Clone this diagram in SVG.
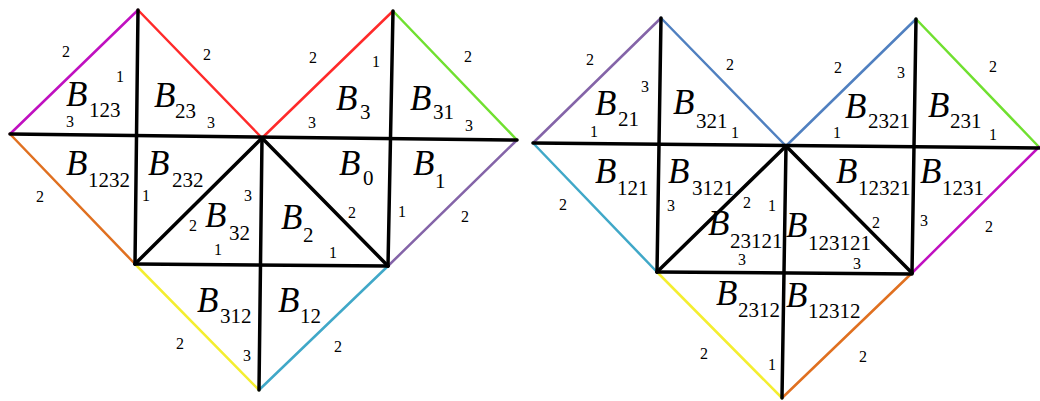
<svg xmlns="http://www.w3.org/2000/svg" width="1040" height="401" viewBox="0 0 1040 401">
<style>
.k{stroke:#000;stroke-width:3.5;stroke-linecap:round;fill:none}
.c{stroke-width:2.5;fill:none;stroke-linecap:round}
.B{font-family:"Liberation Serif",serif;font-style:italic;font-size:35px;fill:#000}
.s{font-family:"Liberation Serif",serif;font-size:21px;fill:#000}
.n{font-family:"Liberation Serif",serif;font-size:16px;fill:#000;text-anchor:middle}
</style>
<rect width="1040" height="401" fill="#fff"/>
<g id="connectors">
<g id="colored-left">
<line class="c" stroke="#c010c0" x1="138" y1="10" x2="10" y2="134"/>
<line class="c" stroke="#ff2a2a" x1="138" y1="10" x2="262" y2="138"/>
<line class="c" stroke="#ff2a2a" x1="262" y1="138" x2="393" y2="11"/>
<line class="c" stroke="#70e030" x1="393" y1="11" x2="517" y2="140"/>
<line class="c" stroke="#e07020" x1="10" y1="134" x2="135" y2="264"/>
<line class="c" stroke="#8464a8" x1="517" y1="140" x2="388" y2="266"/>
<line class="c" stroke="#f4ee30" x1="135" y1="264" x2="259" y2="390"/>
<line class="c" stroke="#40a8c8" x1="388" y1="266" x2="259" y2="390"/>
</g>
<g id="black-left">
<line class="k" x1="10" y1="134" x2="517" y2="140"/>
<line class="k" x1="138" y1="10" x2="135" y2="264"/>
<line class="k" x1="262" y1="138" x2="259" y2="390"/>
<line class="k" x1="393" y1="11" x2="388" y2="266"/>
<line class="k" x1="135" y1="264" x2="388" y2="266"/>
<line class="k" x1="262" y1="138" x2="135" y2="264"/>
<line class="k" x1="262" y1="138" x2="388" y2="266"/>
</g>
<g id="colored-right">
<line class="c" stroke="#8464a8" x1="661" y1="18" x2="533" y2="143"/>
<line class="c" stroke="#5080c0" x1="661" y1="18" x2="786" y2="146"/>
<line class="c" stroke="#5080c0" x1="786" y1="146" x2="916" y2="19"/>
<line class="c" stroke="#70e030" x1="916" y1="19" x2="1039" y2="147"/>
<line class="c" stroke="#40a8c8" x1="533" y1="143" x2="657" y2="272"/>
<line class="c" stroke="#c010c0" x1="1039" y1="147" x2="912" y2="273"/>
<line class="c" stroke="#f4ee30" x1="657" y1="272" x2="782" y2="398"/>
<line class="c" stroke="#e07020" x1="912" y1="273" x2="782" y2="398"/>
</g>
<g id="black-right">
<line class="k" x1="533" y1="143" x2="1039" y2="148"/>
<line class="k" x1="661" y1="18" x2="657" y2="272"/>
<line class="k" x1="786" y1="146" x2="782" y2="398"/>
<line class="k" x1="916" y1="19" x2="912" y2="273"/>
<line class="k" x1="657" y1="272" x2="912" y2="274"/>
<line class="k" x1="786" y1="146" x2="657" y2="272"/>
<line class="k" x1="786" y1="146" x2="912" y2="273"/>
</g>
</g>
<g id="B123"><text class="B" x="66" y="106">B</text><text class="s" x="89" y="117">123</text></g>
<g id="B23"><text class="B" x="154" y="107">B</text><text class="s" x="175" y="118">23</text></g>
<g id="B1232"><text class="B" x="66" y="175">B</text><text class="s" x="88" y="187">1232</text></g>
<g id="B232"><text class="B" x="148" y="175">B</text><text class="s" x="172" y="187">232</text></g>
<g id="B32"><text class="B" x="205" y="227">B</text><text class="s" x="229" y="240">32</text></g>
<g id="B312"><text class="B" x="197" y="312">B</text><text class="s" x="220" y="323">312</text></g>
<g id="B3"><text class="B" x="336" y="110">B</text><text class="s" x="360" y="119">3</text></g>
<g id="B31"><text class="B" x="410" y="110">B</text><text class="s" x="433" y="119">31</text></g>
<g id="B0"><text class="B" x="339" y="175">B</text><text class="s" x="363" y="185">0</text></g>
<g id="B1"><text class="B" x="413" y="175">B</text><text class="s" x="435" y="188">1</text></g>
<g id="B2"><text class="B" x="281" y="229">B</text><text class="s" x="303" y="242">2</text></g>
<g id="B12"><text class="B" x="278" y="312">B</text><text class="s" x="300" y="323">12</text></g>
<g id="B21"><text class="B" x="595" y="115">B</text><text class="s" x="618" y="126">21</text></g>
<g id="B321"><text class="B" x="673" y="114">B</text><text class="s" x="696" y="128">321</text></g>
<g id="B121"><text class="B" x="595" y="183">B</text><text class="s" x="617" y="195">121</text></g>
<g id="B3121"><text class="B" x="668" y="183">B</text><text class="s" x="692" y="195">3121</text></g>
<g id="B2321"><text class="B" x="845" y="118">B</text><text class="s" x="868" y="128">2321</text></g>
<g id="B231"><text class="B" x="928" y="117">B</text><text class="s" x="950" y="128">231</text></g>
<g id="B12321"><text class="B" x="836" y="183">B</text><text class="s" x="858" y="195">12321</text></g>
<g id="B1231"><text class="B" x="920" y="183">B</text><text class="s" x="942" y="195">1231</text></g>
<g id="B23121"><text class="B" x="708" y="235">B</text><text class="s" x="730" y="248">23121</text></g>
<g id="B123121"><text class="B" x="786" y="237">B</text><text class="s" x="808" y="250">123121</text></g>
<g id="B2312"><text class="B" x="716" y="305">B</text><text class="s" x="738" y="317">2312</text></g>
<g id="B12312"><text class="B" x="786" y="307">B</text><text class="s" x="808" y="318">12312</text></g>
<g id="edge-labels">
<text class="n" x="66" y="57">2</text>
<text class="n" x="120" y="82">1</text>
<text class="n" x="70" y="127">3</text>
<text class="n" x="207" y="60">2</text>
<text class="n" x="211" y="128">3</text>
<text class="n" x="40" y="202">2</text>
<text class="n" x="146" y="201">1</text>
<text class="n" x="248" y="201">3</text>
<text class="n" x="193" y="231">2</text>
<text class="n" x="218" y="255">1</text>
<text class="n" x="180" y="349">2</text>
<text class="n" x="247" y="361">3</text>
<text class="n" x="313" y="63">2</text>
<text class="n" x="376" y="67">1</text>
<text class="n" x="312" y="128">3</text>
<text class="n" x="468" y="62">2</text>
<text class="n" x="469" y="131">3</text>
<text class="n" x="352" y="218">2</text>
<text class="n" x="402" y="217">1</text>
<text class="n" x="465" y="222">2</text>
<text class="n" x="333" y="258">1</text>
<text class="n" x="338" y="352">2</text>
<text class="n" x="590" y="65">2</text>
<text class="n" x="645" y="92">3</text>
<text class="n" x="594" y="137">1</text>
<text class="n" x="730" y="70">2</text>
<text class="n" x="735" y="138">1</text>
<text class="n" x="838" y="73">2</text>
<text class="n" x="901" y="78">3</text>
<text class="n" x="837" y="138">1</text>
<text class="n" x="993" y="72">2</text>
<text class="n" x="993" y="140">1</text>
<text class="n" x="563" y="210">2</text>
<text class="n" x="671" y="211">3</text>
<text class="n" x="747" y="208">2</text>
<text class="n" x="772" y="211">1</text>
<text class="n" x="742" y="265">3</text>
<text class="n" x="704" y="359">2</text>
<text class="n" x="772" y="370">1</text>
<text class="n" x="876" y="228">2</text>
<text class="n" x="924" y="226">3</text>
<text class="n" x="989" y="232">2</text>
<text class="n" x="857" y="269">3</text>
<text class="n" x="863" y="362">2</text>
</g>
</svg>
